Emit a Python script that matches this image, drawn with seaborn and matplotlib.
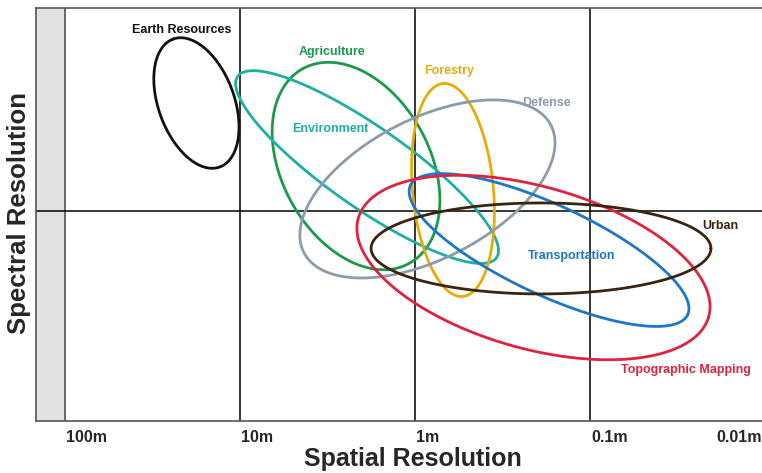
import numpy as np
import pandas as pd
import matplotlib
matplotlib.use("Agg")
import matplotlib.pyplot as plt
import seaborn as sns

# spatial resolution columns, one decade each (100m at 0)
tick_pos = [0, 1, 2, 3, 4]
tick_labels = ["100m", "10m", "1m", "0.1m", "0.01m"]

# application ellipses: centre, semi axes (decades) and tilt (deg)
apps = ["Earth Resources", "Agriculture", "Environment", "Forestry", "Defense",
        "Transportation", "Topographic Mapping", "Urban"]
cx = [0.751, 1.663, 1.726, 2.217, 2.071, 2.766, 2.677, 2.72]
cy = [1.817, 1.457, 1.451, 1.32, 1.326, 0.977, 0.877, 0.986]
semi_a = [0.389, 0.634, 0.903, 0.611, 0.794, 0.874, 1.04, 0.971]
semi_b = [0.217, 0.423, 0.229, 0.231, 0.40, 0.257, 0.463, 0.26]
tilt = [110, 118.5, -35, 95.3, 27.3, -25, -15.7, 0]

# where each name is written
label_x = [0.669, 1.526, 1.514, 2.194, 2.749, 2.897, 3.549, 3.743]
label_y = [2.234, 2.109, 1.669, 2.0, 1.817, 0.943, 0.291, 1.114]

colors = {"Earth Resources": "#111111", "Agriculture": "#1b9a4c",
          "Environment": "#1fafa0", "Forestry": "#e5ac0c", "Defense": "#8c9caa",
          "Transportation": "#1f76c4", "Topographic Mapping": "#e0223e",
          "Urban": "#3a2410"}

t = np.linspace(0, 2 * np.pi, 361)
parts = []
for name, x0, y0, a, b, ang in zip(apps, cx, cy, semi_a, semi_b, tilt):
    th = np.deg2rad(ang)
    x = x0 + a * np.cos(t) * np.cos(th) - b * np.sin(t) * np.sin(th)
    y = y0 + a * np.cos(t) * np.sin(th) + b * np.sin(t) * np.cos(th)
    parts.append(pd.DataFrame({"app": name, "x": x, "y": y}))
df = pd.concat(parts, ignore_index=True)

sns.set_style("white")
plt.rcParams["font.family"] = ["Liberation Sans", "DejaVu Sans"]

fig = plt.figure(figsize=(7.62, 4.73), dpi=100)
ax = fig.add_axes([36 / 762, 52 / 473, 729 / 762, 413 / 473])
x_lo = -29 / 175
ax.set_xlim(x_lo, 4.0)
ax.set_ylim(0, 2.36)

ax.axvspan(x_lo, 0, color="#e2e2e2", zorder=0)
ax.axvline(0, color="#555555", lw=1.2, zorder=1)
for p in tick_pos[1:4]:
    ax.axvline(p, color="black", lw=1.1, zorder=1)
ax.axhline(1.2, color="black", lw=1.1, zorder=1)

sns.lineplot(data=df, x="x", y="y", hue="app", units="app", estimator=None,
             sort=False, palette=colors, lw=2, legend=False, ax=ax, zorder=3)

for name, lx, ly in zip(apps, label_x, label_y):
    ax.text(lx, ly, name, color=colors[name], fontsize=9, fontweight="bold",
            ha="center", va="center", zorder=4)

ax.set_xticks([])
ax.set_yticks([])
ax.set_xlabel("")
ax.set_ylabel("")
for s in ax.spines.values():
    s.set_color("#555555")
    s.set_linewidth(1.2)

for p, lbl in zip(tick_pos, tick_labels):
    if p == tick_pos[-1]:
        ax.text(3.98, -0.022, lbl, transform=ax.get_xaxis_transform(),
                ha="right", va="top", fontsize=11.5, fontweight="bold")
    else:
        ax.text(p + 0.005, -0.022, lbl, transform=ax.get_xaxis_transform(),
                ha="left", va="top", fontsize=11.5, fontweight="bold")

fig.text(413 / 762, 1 - 459 / 473, "Spatial Resolution", ha="center",
         va="center", fontsize=18, fontweight="bold")
fig.text(19 / 762, 1 - 213 / 473, "Spectral Resolution", ha="center",
         va="center", rotation=90, fontsize=18.5, fontweight="bold")

fig.savefig("out.png", dpi=100)
